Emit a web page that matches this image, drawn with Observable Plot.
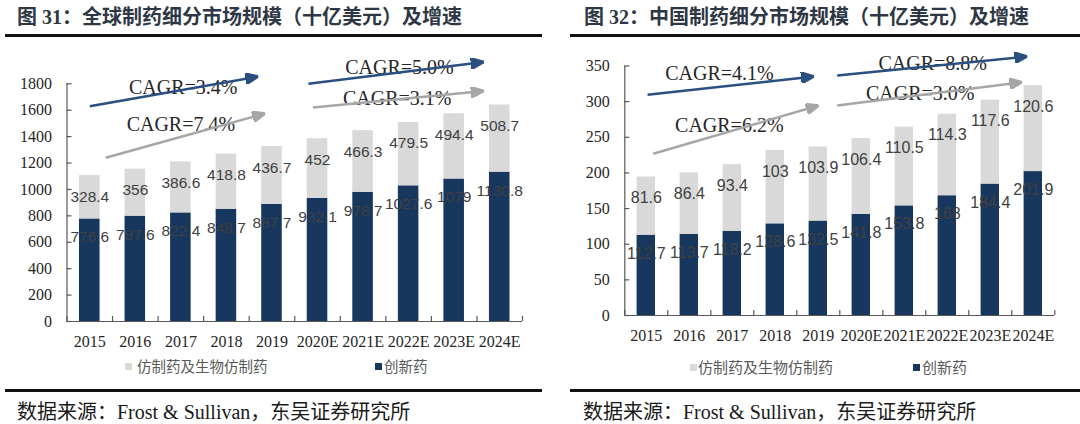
<!DOCTYPE html>
<html><head><meta charset="utf-8">
<script src="https://cdn.jsdelivr.net/npm/d3@7"></script>
<script src="https://cdn.jsdelivr.net/npm/@observablehq/plot@0.6"></script>
<style>
body{margin:0;background:#fff;}
#page{position:relative;width:1080px;height:424px;overflow:hidden;background:#fff;}
.abs{position:absolute;white-space:nowrap;}
.title{font-family:"Liberation Serif","Noto Sans CJK SC",serif;font-weight:700;font-size:20px;color:#2e3744;line-height:20px;top:7px;}
.rule{position:absolute;height:2.5px;background:#111;}
.legend{font-family:"Noto Sans CJK SC",sans-serif;color:#595959;line-height:16px;}
.sw{position:absolute;width:7px;height:7px;}
.source{font-family:"Liberation Serif","Noto Sans CJK SC",serif;font-size:20px;color:#1a1a1a;top:401px;line-height:22px;}
.chart{position:absolute;top:40px;}
</style>
</head><body>
<div id="page">
  <div class="abs title" style="left:17px">图 31：全球制药细分市场规模（十亿美元）及增速</div>
  <div class="abs title" style="left:584px">图 32：中国制药细分市场规模（十亿美元）及增速</div>
  <div class="rule" style="left:5px;width:537px;top:34px"></div>
  <div class="rule" style="left:570px;width:510px;top:34px"></div>
  <div id="left" class="chart" style="left:0"></div>
  <div id="right" class="chart" style="left:540px"></div>
  <div class="sw" style="left:125px;top:363px;background:#d9d9d9"></div>
  <div class="abs legend" style="left:137px;top:358px;font-size:14.5px">仿制药及生物仿制药</div>
  <div class="sw" style="left:375px;top:363px;background:#17375e"></div>
  <div class="abs legend" style="left:384px;top:358px;font-size:14.5px">创新药</div>
  <div class="sw" style="left:690px;top:364px;background:#d9d9d9"></div>
  <div class="abs legend" style="left:698px;top:359px;font-size:15px">仿制药及生物仿制药</div>
  <div class="sw" style="left:913px;top:364px;background:#17375e"></div>
  <div class="abs legend" style="left:922px;top:359px;font-size:15px">创新药</div>
  <div class="rule" style="left:5px;width:537px;top:389px"></div>
  <div class="rule" style="left:570px;width:510px;top:389px"></div>
  <div class="abs source" style="left:17px">数据来源：Frost &amp; Sullivan，东吴证券研究所</div>
  <div class="abs source" style="left:583px">数据来源：Frost &amp; Sullivan，东吴证券研究所</div>
</div>
<script>
// ---------- data ----------
const years = ["2015", "2016", "2017", "2018", "2019", "2020E", "2021E", "2022E", "2023E", "2024E"];

const globalGeneric    = [328.4, 356, 386.6, 418.8, 436.7, 452, 466.3, 479.5, 494.4, 508.7];
const globalInnovative = [776.6, 797.6, 822.4, 848.7, 887.7, 932.1, 978.7, 1027.6, 1079, 1130.8];
const globalYTicks     = [0, 200, 400, 600, 800, 1000, 1200, 1400, 1600, 1800];

const chinaGeneric     = [81.6, 86.4, 93.4, 103, 103.9, 106.4, 110.5, 114.3, 117.6, 120.6];
const chinaInnovative  = [112.7, 113.7, 118.2, 128.6, 132.5, 141.8, 153.8, 168, 184.4, 201.9];
const chinaYTicks      = [0, 50, 100, 150, 200, 250, 300, 350];

const globalCagrLabels = ["CAGR=3.4%", "CAGR=7.4%", "CAGR=5.0%", "CAGR=3.1%"];
const chinaCagrLabels  = ["CAGR=4.1%", "CAGR=6.2%", "CAGR=8.8%", "CAGR=3.0%"];
const cagrSeries       = ["innovative", "generic", "innovative", "generic"];

// annotation anchors (x in category units, y in data units)
const globalArrowAt = [
  {x1: 0.5, y1: 1630, x2: 4.2, y2: 1855, tx: 2.55, ty: 1775},
  {x1: 0.85, y1: 1240, x2: 4.35, y2: 1575, tx: 2.5, ty: 1490},
  {x1: 5.3, y1: 1800, x2: 9.15, y2: 1965, tx: 7.3, ty: 1925},
  {x1: 5.4, y1: 1620, x2: 9.15, y2: 1745, tx: 7.25, ty: 1685}
];
const chinaArrowAt = [
  {x1: 0.53, y1: 309.6, x2: 4.4, y2: 335.3, tx: 2.2, ty: 339},
  {x1: 0.66, y1: 226.8, x2: 4.51, y2: 294.6, tx: 2.43, ty: 266.5},
  {x1: 4.94, y1: 336.7, x2: 9.36, y2: 363.3, tx: 7.16, ty: 353},
  {x1: 4.94, y1: 294.6, x2: 9.24, y2: 327.3, tx: 6.87, ty: 311}
];

// ---------- style ----------
const NAVY = "#17375e", LIGHT = "#d9d9d9";
const ARROW = {innovative: "#2b4f80", generic: "#a6a6a6"};
const AXIS = "#595959";

function filledArrow(color) {
  const ns = "http://www.w3.org/2000/svg";
  const m = document.createElementNS(ns, "marker");
  m.setAttribute("viewBox", "-13 -5.5 13 11");
  m.setAttribute("markerWidth", 13);
  m.setAttribute("markerHeight", 11);
  m.setAttribute("markerUnits", "userSpaceOnUse");
  m.setAttribute("orient", "auto");
  m.setAttribute("refX", 0);
  m.setAttribute("refY", 0);
  const p = document.createElementNS(ns, "path");
  p.setAttribute("d", "M-13,-5.5L0,0L-13,5.5Z");
  p.setAttribute("fill", color);
  m.appendChild(p);
  return m;
}

function chart(cfg) {
  const table = years.map((year, i) => ({
    year, i,
    innovative: cfg.innovative[i],
    generic: cfg.generic[i],
    total: cfg.innovative[i] + cfg.generic[i]
  }));
  const ann = cfg.arrowAt.map((a, k) => ({...a, label: cfg.labels[k], series: cagrSeries[k]}));
  const arrowMarks = ["innovative", "generic"].map(s =>
    Plot.link(ann.filter(d => d.series === s), {
      x1: "x1", y1: "y1", x2: "x2", y2: "y2",
      stroke: ARROW[s], strokeWidth: 2.5, markerEnd: filledArrow
    })
  );
  return Plot.plot({
    width: 540,
    height: 310,
    marginLeft: cfg.ml, marginRight: cfg.mr, marginTop: cfg.mt, marginBottom: cfg.mb,
    style: {fontFamily: '"Liberation Serif", serif', fontSize: "16px", color: "#262626", background: "transparent", overflow: "visible"},
    x: {type: "linear", domain: [0, years.length], ticks: years.map((_, i) => i + 0.5),
        tickFormat: v => years[Math.floor(v)], tickSize: 0, tickPadding: 14, label: null},
    y: {domain: [0, cfg.yTicks[cfg.yTicks.length - 1]], ticks: cfg.yTicks, tickFormat: d => String(d),
        tickSize: 0, tickPadding: 15, label: null},
    marks: [
      Plot.rectY(table, {x1: "i", x2: d => d.i + 1, y1: 0, y2: "innovative", fill: NAVY, insetLeft: cfg.inset, insetRight: cfg.inset}),
      Plot.rectY(table, {x1: "i", x2: d => d.i + 1, y1: "innovative", y2: "total", fill: LIGHT, insetLeft: cfg.inset, insetRight: cfg.inset}),
      Plot.text(table, {x: d => d.i + 0.5, y: "total", text: d => String(d.generic), dy: 21,
        fill: "#404040", fontSize: cfg.labelSize, fontFamily: '"Liberation Sans", Arial, sans-serif'}),
      Plot.text(table, {x: d => d.i + 0.5, y: "innovative", text: d => String(d.innovative), dy: 18.5,
        fill: "#404040", fontSize: cfg.labelSize, fontFamily: '"Liberation Sans", Arial, sans-serif'}),
      Plot.ruleY([0], {stroke: AXIS, strokeWidth: 1.2}),
      Plot.ruleX([0], {stroke: AXIS, strokeWidth: 1.2}),
      Plot.ruleX(d3.range(years.length + 1), {y1: 0, y2: 0, insetTop: -5, stroke: AXIS, strokeWidth: 1.2}),
      Plot.ruleY(cfg.yTicks, {x1: 0, x2: 0, insetRight: -5, stroke: AXIS, strokeWidth: 1.2}),
      Plot.text(ann, {x: "tx", y: "ty", text: "label", fontSize: 20, fill: "#262626",
        fontFamily: '"Liberation Serif", serif'}),
      ...arrowMarks
    ]
  });
}

document.getElementById("left").append(chart({
  generic: globalGeneric, innovative: globalInnovative, yTicks: globalYTicks,
  labels: globalCagrLabels, arrowAt: globalArrowAt,
  ml: 66.5, mr: 18, mt: 43.3, mb: 29, inset: 12.5, labelSize: 15.5
}));
document.getElementById("right").append(chart({
  generic: chinaGeneric, innovative: chinaInnovative, yTicks: chinaYTicks,
  labels: chinaCagrLabels, arrowAt: chinaArrowAt,
  ml: 84.3, mr: 25.7, mt: 25.5, mb: 35, inset: 12.3, labelSize: 16
}));
</script>
</body></html>
